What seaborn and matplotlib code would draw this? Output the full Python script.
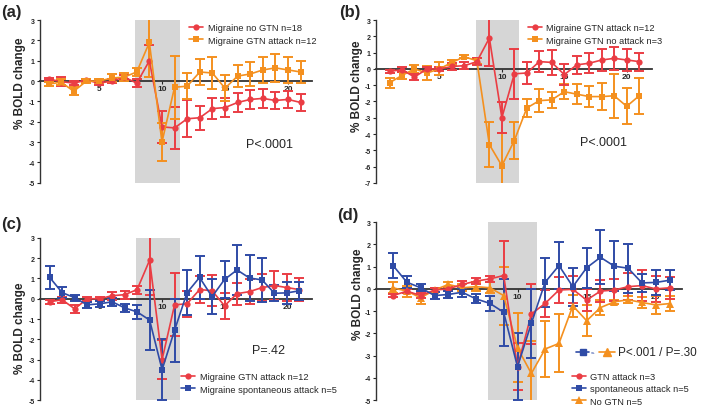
import numpy as np
import pandas as pd
import matplotlib
matplotlib.use('Agg')
import matplotlib.pyplot as plt
import seaborn as sns

# time points (scan blocks)
time = list(range(1, 22))

# Migraine no GTN n=18
no_gtn_18 = [0.1, -0.02, -0.1, 0.05, -0.1, 0.0, 0.2, -0.1, 1.0, -2.25, -2.3, -1.85, -1.8,
             -1.35, -1.3, -1.05, -0.9, -0.85, -0.95, -0.9, -1.05]
no_gtn_18_err = [0.05, 0.2, 0.1, 0.05, 0.1, 0.1, 0.1, 0.2, 0.8, 0.8, 1.05, 0.9, 0.6,
                 0.5, 0.45, 0.45, 0.45, 0.45, 0.4, 0.4, 0.4]

# Migraine GTN attack n=12
gtn_attack_12 = [-0.15, -0.05, -0.5, 0.0, 0.0, 0.15, 0.2, 0.45, 1.9, -3.0, -0.3, -0.25, 0.45,
                 0.4, -0.35, 0.25, 0.35, 0.55, 0.65, 0.55, 0.45]
gtn_attack_12_err = [0.1, 0.15, 0.2, 0.1, 0.1, 0.2, 0.2, 0.2, 1.7, 0.95, 1.55, 0.65, 0.65,
                     0.78, 0.65, 0.55, 0.6, 0.65, 0.7, 0.65, 0.55]

# Migraine GTN no attack n=3
gtn_no_attack_3 = [-0.85, -0.4, 0.0, -0.25, 0.0, 0.4, 0.75, 0.5, -4.65, -5.95, -4.4, -2.4, -1.95,
                   -1.9, -1.4, -1.55, -1.7, -1.7, -1.65, -2.3, -1.65]
gtn_no_attack_3_err = [0.3, 0.2, 0.25, 0.45, 0.4, 0.15, 0.1, 0.2, 1.4, 2.0, 1.15, 0.55, 0.7,
                       0.5, 0.45, 0.6, 0.65, 0.85, 1.35, 1.1, 1.1]

# Migraine spontaneous attack n=5
spont_5 = [1.05, 0.3, 0.05, -0.3, -0.25, -0.15, -0.45, -0.65, -1.05, -3.5, -1.55, 0.3, 1.05,
           0.1, 0.95, 1.42, 1.02, 0.93, 0.27, 0.29, 0.39]
spont_5_err = [0.55, 0.28, 0.15, 0.15, 0.15, 0.2, 0.2, 0.35, 1.5, 1.5, 1.55, 1.1, 1.05,
               0.85, 0.9, 1.22, 1.12, 1.1, 0.4, 0.55, 0.45]

# GTN attack n=3
gtn_attack_3 = [-0.3, -0.1, -0.3, -0.05, 0.0, 0.2, 0.35, 0.45, 0.6, -3.5, -1.13, -0.65, -0.05,
                -0.02, -0.5, -0.1, -0.05, 0.1, 0.15, 0.0, 0.05]
gtn_attack_3_err = [0.05, 0.1, 0.1, 0.1, 0.1, 0.15, 0.15, 0.15, 1.55, 1.05, 1.35, 0.6, 0.6,
                    0.6, 0.5, 0.5, 0.5, 0.6, 0.7, 0.6, 0.5]

# No GTN n=5
no_gtn_5 = [0.05, -0.1, -0.4, -0.05, 0.2, 0.05, 0.1, 0.05, -0.3, -2.65, -3.8, -2.7, -2.45,
            -0.76, -1.43, -0.84, -0.58, -0.49, -0.61, -0.72, -0.66]
no_gtn_5_err = [0.25, 0.25, 0.3, 0.1, 0.1, 0.15, 0.2, 0.25, 1.3, 1.55, 1.45, 1.25, 1.3,
                0.5, 0.7, 0.35, 0.1, 0.15, 0.25, 0.4, 0.35]

RED = '#ea3d44'
ORANGE = '#f4901f'
BLUE = '#2f4ba6'
SHADE = '#d6d6d6'

sns.set_style('white')
plt.rcParams['font.family'] = ['Liberation Sans', 'DejaVu Sans']
plt.rcParams['axes.unicode_minus'] = False


def draw_series(ax, y, err, color, marker, label, ms):
    df = pd.DataFrame({'time': time, 'bold': y})
    ax.errorbar(time, y, yerr=err, fmt='none', ecolor=color, elinewidth=1.4,
                capsize=3.6, capthick=1.4, zorder=2)
    sns.lineplot(data=df, x='time', y='bold', color=color, marker=marker, markersize=ms,
                 markeredgewidth=0, linewidth=1.2, label=label, ax=ax, zorder=3)


def style_axes(ax, xlim, ylim, label_xy):
    ax.axvspan(7.9, 11.4, color=SHADE, lw=0, zorder=0)
    ax.set_xlim(*xlim)
    ax.set_ylim(*ylim)
    ax.set_yticks(range(ylim[0], ylim[1] + 1))
    ax.set_xticks([5, 10, 15, 20])
    for s in ['top', 'right']:
        ax.spines[s].set_visible(False)
    ax.spines['bottom'].set_position(('data', 0))
    ax.spines['bottom'].set_color('#333333')
    ax.spines['bottom'].set_linewidth(1.3)
    ax.spines['left'].set_color('#333333')
    ax.spines['left'].set_linewidth(1.0)
    ax.spines['bottom'].set_zorder(1)
    ax.tick_params(axis='y', direction='out', length=2.5, width=0.8, pad=1,
                   labelsize=5, left=True)
    ax.tick_params(axis='x', direction='out', length=2, width=0.8, pad=1,
                   labelsize=6, bottom=True)
    for t in ax.get_xticklabels() + ax.get_yticklabels():
        t.set_fontweight('bold')
    ax.set_xlabel('')
    ax.set_ylabel('% BOLD change', fontsize=8.5, fontweight='bold')
    ax.yaxis.set_label_coords(*label_xy)


fig = plt.figure(figsize=(7.09, 4.14), dpi=100)
ax_a = fig.add_axes([0.056, 0.556, 0.384, 0.393])
ax_b = fig.add_axes([0.530, 0.556, 0.390, 0.393])
ax_c = fig.add_axes([0.056, 0.031, 0.384, 0.392])
ax_d = fig.add_axes([0.530, 0.031, 0.432, 0.430])

leg_kw = dict(frameon=False, fontsize=6.7, handlelength=1.5, handletextpad=0.5,
              labelspacing=0.35, borderpad=0, borderaxespad=0)

# (a)
draw_series(ax_a, no_gtn_18, no_gtn_18_err, RED, 'o', 'Migraine no GTN n=18', 4.5)
draw_series(ax_a, gtn_attack_12, gtn_attack_12_err, ORANGE, 's', 'Migraine GTN attack n=12', 5)
style_axes(ax_a, (0.3, 21.9), (-5, 3), (-0.05, 0.62))
ax_a.legend(loc='upper left', bbox_to_anchor=(0.55, 0.98), **leg_kw)
ax_a.text(0.93, 0.24, 'P<.0001', transform=ax_a.transAxes, fontsize=9, ha='right', va='center')

# (b)
draw_series(ax_b, gtn_no_attack_3, gtn_no_attack_3_err, ORANGE, 's', 'Migraine GTN no attack n=3', 5)
draw_series(ax_b, gtn_attack_12, gtn_attack_12_err, RED, 'o', 'Migraine GTN attack n=12', 4.5)
style_axes(ax_b, (-0.1, 22.05), (-7, 3), (-0.045, 0.6))
h, l = ax_b.get_legend_handles_labels()
ax_b.legend(h[::-1], l[::-1], loc='upper left', bbox_to_anchor=(0.55, 0.98), **leg_kw)
ax_b.text(0.91, 0.25, 'P<.0001', transform=ax_b.transAxes, fontsize=9, ha='right', va='center')

# (c)
draw_series(ax_c, gtn_attack_12, gtn_attack_12_err, RED, 'o', 'Migraine GTN attack n=12', 4.5)
draw_series(ax_c, spont_5, spont_5_err, BLUE, 's', 'Migraine spontaneous attack n=5', 5)
style_axes(ax_c, (0.2, 22.0), (-5, 3), (-0.05, 0.45))
ax_c.legend(loc='lower left', bbox_to_anchor=(0.52, 0.04), **leg_kw)
ax_c.text(0.9, 0.31, 'P=.42', transform=ax_c.transAxes, fontsize=9, ha='right', va='center')

# (d)
draw_series(ax_d, no_gtn_5, no_gtn_5_err, ORANGE, '^', 'No GTN n=5', 5.5)
draw_series(ax_d, gtn_attack_3, gtn_attack_3_err, RED, 'o', 'GTN attack n=3', 4.5)
draw_series(ax_d, spont_5, spont_5_err, BLUE, 's', 'spontaneous attack n=5', 5)
style_axes(ax_d, (-0.25, 21.9), (-5, 3), (-0.04, 0.6))
h, l = ax_d.get_legend_handles_labels()
ax_d.legend([h[1], h[2], h[0]], [l[1], l[2], l[0]], loc='lower left',
            bbox_to_anchor=(0.64, -0.03), **leg_kw)
# comparison key: spontaneous vs. No GTN
ax_d.plot([0.655, 0.675, 0.695], [0.268] * 3, color=BLUE, marker='s', markersize=5,
          markevery=[1], lw=1.2, transform=ax_d.transAxes, clip_on=False)
ax_d.text(0.702, 0.268, 'vs.', transform=ax_d.transAxes, fontsize=3, color=BLUE,
          va='center', ha='left')
ax_d.plot([0.73, 0.755, 0.78], [0.268] * 3, color=ORANGE, marker='^', markersize=5.5,
          markevery=[1], lw=1.2, transform=ax_d.transAxes, clip_on=False)
ax_d.text(0.79, 0.268, 'P<.001 / P=.30', transform=ax_d.transAxes, fontsize=8.5,
          va='center', ha='left')

for ax, lab, x, y in [(ax_a, '(a)', 0.002, 0.97), (ax_b, '(b)', 0.478, 0.97),
                      (ax_c, '(c)', 0.002, 0.458), (ax_d, '(d)', 0.476, 0.48)]:
    fig.text(x, y, lab, fontsize=12, fontweight='bold', ha='left', va='center')

fig.savefig('out.png', dpi=100)
